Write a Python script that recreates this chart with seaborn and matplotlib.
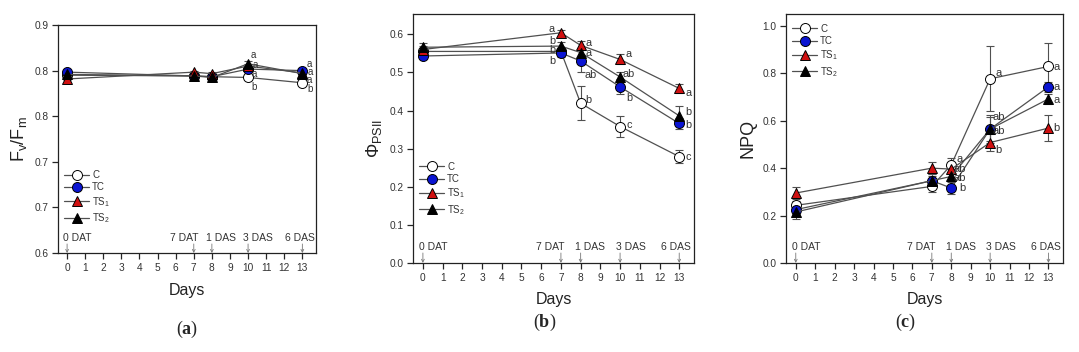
import numpy as np
import pandas as pd
import seaborn as sns
import matplotlib.pyplot as plt
from matplotlib.ticker import FixedLocator, FormatStrFormatter

sns.set_style('ticks')
plt.rcParams['font.family'] = ['Liberation Sans', 'DejaVu Sans']
plt.rcParams['mathtext.fontset'] = 'custom'
plt.rcParams['mathtext.rm'] = 'Liberation Sans'
plt.rcParams['mathtext.it'] = 'Liberation Sans'
plt.rcParams['mathtext.bf'] = 'Liberation Serif:bold'

#---------------------------------- data ----------------------------------#
days = [0, 7, 8, 10, 13]
treatments = ['C', 'TC', 'TS1', 'TS2']
legend_names = ['C', 'TC', 'TS$_1$', 'TS$_2$']
stage_labels = ['0 DAT', '7 DAT', '1 DAS', '3 DAS', '6 DAS']

# (a) Fv/Fm
fvfm_C   = [0.834, 0.833, 0.832, 0.831, 0.824]
fvfm_TC  = [0.838, 0.833, 0.832, 0.842, 0.840]
fvfm_TS1 = [0.829, 0.838, 0.836, 0.846, 0.837]
fvfm_TS2 = [0.835, 0.833, 0.831, 0.849, 0.836]
fvfm_err = [0.002, 0.002, 0.002, 0.003, 0.002]

# (b) PhiPSII
phi_C   = [0.555, 0.555, 0.419, 0.358, 0.279]
phi_TC  = [0.543, 0.551, 0.530, 0.462, 0.366]
phi_TS1 = [0.560, 0.604, 0.571, 0.534, 0.458]
phi_TS2 = [0.566, 0.569, 0.552, 0.488, 0.386]
phi_C_err   = [0.010, 0.010, 0.045, 0.027, 0.017]
phi_TC_err  = [0.008, 0.010, 0.030, 0.020, 0.015]
phi_TS1_err = [0.008, 0.008, 0.012, 0.013, 0.012]
phi_TS2_err = [0.010, 0.010, 0.012, 0.012, 0.027]

# (c) NPQ
npq_C   = [0.243, 0.323, 0.414, 0.777, 0.829]
npq_TC  = [0.225, 0.347, 0.316, 0.565, 0.743]
npq_TS1 = [0.295, 0.400, 0.396, 0.508, 0.569]
npq_TS2 = [0.215, 0.347, 0.365, 0.565, 0.692]
npq_C_err   = [0.020, 0.025, 0.030, 0.138, 0.100]
npq_TC_err  = [0.020, 0.020, 0.025, 0.060, 0.020]
npq_TS1_err = [0.025, 0.025, 0.020, 0.035, 0.055]
npq_TS2_err = [0.030, 0.030, 0.020, 0.050, 0.020]

# significance letters: (treatment, day, letter)
letters_a = [('TS2', 10, 'a'), ('TS1', 10, 'a'), ('TC', 10, 'a'), ('C', 10, 'b'),
             ('TC', 13, 'a'), ('TS1', 13, 'a'), ('TS2', 13, 'a'), ('C', 13, 'b')]
letters_b = [('TS1', 7, 'a'), ('TS2', 7, 'b'), ('C', 7, 'b'), ('TC', 7, 'b'),
             ('TS1', 8, 'a'), ('TS2', 8, 'a'), ('TC', 8, 'ab'), ('C', 8, 'b'),
             ('TS1', 10, 'a'), ('TS2', 10, 'ab'), ('TC', 10, 'b'), ('C', 10, 'c'),
             ('TS1', 13, 'a'), ('TS2', 13, 'b'), ('TC', 13, 'b'), ('C', 13, 'c')]
letters_c = [('C', 8, 'a'), ('TS1', 8, 'ab'), ('TS2', 8, 'ab'), ('TC', 8, 'b'),
             ('C', 10, 'a'), ('TC', 10, 'ab'), ('TS2', 10, 'ab'), ('TS1', 10, 'b'),
             ('C', 13, 'a'), ('TC', 13, 'a'), ('TS2', 13, 'a'), ('TS1', 13, 'b')]

#------------------------------- layout/style -------------------------------#
face = {'C': 'white', 'TC': '#0a14d2', 'TS1': '#d01010', 'TS2': 'black'}
mark = {'C': 'o', 'TC': 'o', 'TS1': '^', 'TS2': '^'}
msize = {'C': 7.2, 'TC': 7.2, 'TS1': 6.8, 'TS2': 6.8}
line_col = '#505050'
txt_col = '#333333'

# offsets for letters (dx in days, dy in data units) per panel
off_a = [(0.3, 0.011), (0.4, 0.002), (0.35, -0.007), (0.35, -0.012),
         (0.4, 0.009), (0.45, 0.001), (0.4, -0.009), (0.4, -0.008)]
off_b = [(-0.45, 0.009), (-0.45, 0.014), (-0.45, 0.005), (-0.45, -0.020),
         (0.4, 0.005), (0.4, 0.0), (0.5, -0.037), (0.4, 0.008),
         (0.45, 0.014), (0.45, 0.008), (0.45, -0.030), (0.45, 0.004),
         (0.45, -0.011), (0.45, 0.009), (0.45, -0.003), (0.45, -0.002)]
off_c = [(0.45, 0.026), (0.45, 0.001), (0.45, -0.007), (0.55, 0.0),
         (0.45, 0.023), (0.45, 0.05), (0.45, -0.010), (0.45, -0.031),
         (0.4, -0.003), (0.4, 0.001), (0.4, -0.004), (0.4, 0.0)]
letter_size = [7, 7.8, 8]

stage_text_x = [0.55, 6.45, 8.5, 10.55, 12.85]

fig = plt.figure(figsize=(10.79, 3.52), dpi=100)
ax_a = fig.add_axes([0.0538, 0.281, 0.239, 0.648])
ax_b = fig.add_axes([0.3828, 0.253, 0.2604, 0.707])
ax_c = fig.add_axes([0.7285, 0.253, 0.2567, 0.707])

panels = [
    (ax_a, {'C': fvfm_C, 'TC': fvfm_TC, 'TS1': fvfm_TS1, 'TS2': fvfm_TS2},
     {'C': fvfm_err, 'TC': fvfm_err, 'TS1': fvfm_err, 'TS2': fvfm_err},
     letters_a, off_a, 'F$_v$/F$_m$', (0.6, 0.9), np.linspace(0.6, 0.9, 6),
     '%.1f', (0.0, 0.39)),
    (ax_b, {'C': phi_C, 'TC': phi_TC, 'TS1': phi_TS1, 'TS2': phi_TS2},
     {'C': phi_C_err, 'TC': phi_TC_err, 'TS1': phi_TS1_err, 'TS2': phi_TS2_err},
     letters_b, off_b, r'$\Phi_{\rm PSII}$', (0.0, 0.653), np.arange(0, 0.61, 0.1),
     '%.1f', (0.0, 0.43)),
    (ax_c, {'C': npq_C, 'TC': npq_TC, 'TS1': npq_TS1, 'TS2': npq_TS2},
     {'C': npq_C_err, 'TC': npq_TC_err, 'TS1': npq_TS1_err, 'TS2': npq_TS2_err},
     letters_c, off_c, 'NPQ', (0.0, 1.05), np.arange(0, 1.01, 0.2),
     '%.1f', (0.0, 0.985)),
]

for i, (ax, vals, errs, letters, offs, ylab, ylim, yticks, fmt, leg_pos) in enumerate(panels):
    for t, name in zip(treatments, legend_names):
        ax.errorbar(days, vals[t], yerr=errs[t], fmt='none', ecolor=line_col,
                    elinewidth=0.8, capsize=3, capthick=0.8, zorder=2)
        sns.lineplot(x=days, y=vals[t], ax=ax, color=line_col, linewidth=0.9,
                     marker=mark[t], markersize=msize[t], markerfacecolor=face[t],
                     markeredgecolor='black', markeredgewidth=0.7, label=name,
                     zorder=3)
    for (t, d, s), (dx, dy) in zip(letters, offs):
        y = vals[t][days.index(d)]
        ax.text(d + dx, y + dy, s, fontsize=letter_size[i], color=txt_col,
                ha='center', va='center')

    # stage markers above the x axis
    tr = ax.get_xaxis_transform()
    for d, s, tx in zip(days, stage_labels, stage_text_x):
        ax.annotate('', xy=(d, 0.0), xycoords=tr, xytext=(d, 0.04), textcoords=tr,
                    arrowprops=dict(arrowstyle='->', color='#777777', lw=0.6,
                                    shrinkA=0, shrinkB=0, mutation_scale=5))
        ax.text(tx, 0.045, s, transform=tr, fontsize=7.5, color=txt_col,
                ha='center', va='bottom')

    ax.set_xlim(-0.5, 13.75)
    ax.set_ylim(*ylim)
    ax.set_xticks(range(0, 14))
    ax.yaxis.set_major_locator(FixedLocator(yticks))
    ax.yaxis.set_major_formatter(FormatStrFormatter(fmt))
    ax.tick_params(axis='both', labelsize=7.3, labelcolor=txt_col, length=4,
                   width=0.9, direction='out', pad=3)
    for sp in ax.spines.values():
        sp.set_linewidth(0.9)
        sp.set_color('#222222')
    ax.set_xlabel('Days', fontsize=11.5, color='#222222', labelpad=7)
    ax.set_ylabel(ylab, fontsize=13, color='#222222', labelpad=4)

    ax.legend(loc='upper left', bbox_to_anchor=leg_pos, frameon=False,
              fontsize=7, labelspacing=0.25, handlelength=2.6, handletextpad=0.3,
              borderaxespad=0.2, labelcolor=txt_col)

fig.text(0.173, 0.05, r'($\mathbf{a}$)', fontsize=13, ha='center', family='Liberation Serif')
fig.text(0.505, 0.072, r'($\mathbf{b}$)', fontsize=13, ha='center', family='Liberation Serif')
fig.text(0.839, 0.072, r'($\mathbf{c}$)', fontsize=13, ha='center', family='Liberation Serif')

fig.savefig('out.png', dpi=100)
